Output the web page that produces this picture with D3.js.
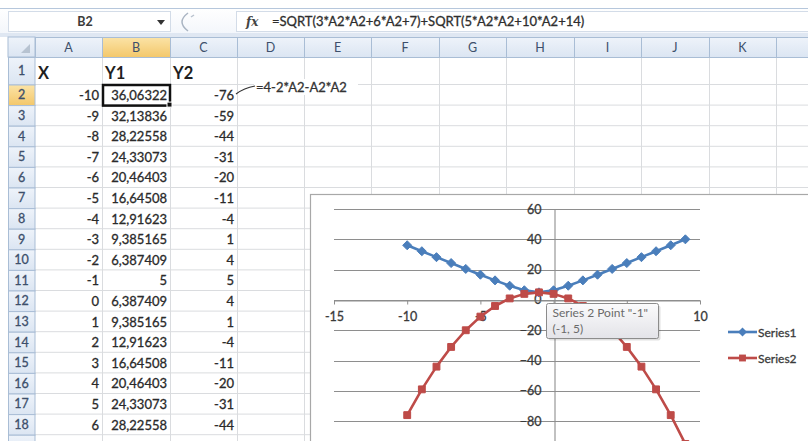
<!DOCTYPE html>
<html>
<head>
<meta charset="utf-8">
<script src="https://cdn.jsdelivr.net/npm/d3@7"></script>
<style>
  body { margin: 0; background: #fff; }
  svg { display: block; font-family: Lato, "Open Sans", sans-serif; }
</style>
</head>
<body>
<svg id="sheet" width="808" height="441"></svg>
<script>
// Worksheet data: X in column A, Y1 and Y2 computed by the cell formulas.
const X  = [-10, -9, -8, -7, -6, -5, -4, -3, -2, -1, 0, 1, 2, 3, 4, 5, 6, 7, 8, 9];
const Y1 = [36.06322, 32.13836, 28.22558, 24.33073, 20.46403, 16.64508, 12.91623, 9.385165, 6.387409, 5,
            6.387409, 9.385165, 12.91623, 16.64508, 20.46403, 24.33073, 28.22558, 32.13836, 36.06322, 39.99659];
const Y2 = [-76, -59, -44, -31, -20, -11, -4, 1, 4, 5, 4, 1, -4, -11, -20, -31, -44, -59, -76, -95];

const headers     = ["X", "Y1", "Y2"];
const colLetters  = ["A", "B", "C", "D", "E", "F", "G", "H", "I", "J", "K", "L"];
const seriesNames = ["Series1", "Series2"];
const xTicks = [-15, -10, -5, 0, 5, 10];
const yTicks = [-80, -60, -40, -20, 0, 20, 40, 60];
const nameBox = "B2";
const formulaY1 = "=SQRT(3*A2*A2+6*A2+7)+SQRT(5*A2*A2+10*A2+14)";
const formulaY2 = "=4-2*A2-A2*A2";

const W = 808, H = 441;
const svg = d3.select("#sheet");
const defs = svg.append("defs");

function vGrad(id, top, bottom) {
  const g = defs.append("linearGradient").attr("id", id).attr("x1", 0).attr("y1", 0).attr("x2", 0).attr("y2", 1);
  g.append("stop").attr("offset", "0%").attr("stop-color", top);
  g.append("stop").attr("offset", "100%").attr("stop-color", bottom);
}
vGrad("hdr", "#eef3fa", "#dbe5f2");
vGrad("hdrSel", "#fbe3a6", "#f3c76a");
vGrad("tip", "#fbfbfc", "#e3e3e8");
vGrad("bar", "#ffffff", "#f3f6fb");

// slightly heavier text, like the screen rendering of Calibri
const heavy = sel => sel.attr("stroke", sel.attr("fill")).attr("stroke-width", 0.3);

// ---------- grid geometry ----------
const colEdges = [8, 35, 102, 170, 237, 304, 371, 439, 506, 574, 641, 709, 776, 844];
const headTop = 37, headBot = 57, row1Bot = 84.5, rowH = 20.6;
const rowTop = k => (k === 1 ? headBot : row1Bot + (k - 2) * rowH);
const nRows = X.length + 1;

// ---------- formula bar ----------
const bar = svg.append("g");
bar.append("rect").attr("x", 0).attr("y", 8).attr("width", W).attr("height", 26).attr("fill", "url(#bar)");
bar.append("line").attr("x1", 0).attr("x2", W).attr("y1", 8.5).attr("y2", 8.5).attr("stroke", "#b6c7dc");
bar.append("rect").attr("x", 0).attr("y", 33).attr("width", W).attr("height", 4).attr("fill", "#dfe7f2");
bar.append("rect").attr("x", 8.5).attr("y", 11.5).attr("width", 162).attr("height", 20)
  .attr("fill", "#fff").attr("stroke", "#d3dce8");
bar.append("text").attr("x", 85).attr("y", 26).attr("text-anchor", "middle")
  .attr("font-size", 12.5).attr("font-weight", "bold").attr("fill", "#3b3b3b").text(nameBox);
bar.append("path").attr("d", "M157,20 L165,20 L161,25 Z").attr("fill", "#333");
bar.append("path").attr("d", "M188,13 Q176,22 188,31").attr("fill", "none").attr("stroke", "#a9b4c2").attr("stroke-width", 1.5);
bar.append("path").attr("d", "M191,17 l3,-2").attr("stroke", "#b9c2ce").attr("stroke-width", 1.5);
bar.append("rect").attr("x", 236.5).attr("y", 11.5).attr("width", 580).attr("height", 20)
  .attr("fill", "#fff").attr("stroke", "#d3dce8");
bar.append("text").attr("x", 246).attr("y", 26).attr("font-size", 12).attr("font-style", "italic")
  .attr("font-weight", "bold").attr("font-family", "DejaVu Serif, serif").attr("fill", "#444").text("fx");
bar.append("text").attr("x", 272).attr("y", 26).attr("font-size", 13).attr("fill", "#2e2e2e")
  .text(formulaY1).call(heavy);

// ---------- cells ----------
const cells = svg.append("g");
cells.append("rect").attr("x", 35).attr("y", headBot).attr("width", W).attr("height", H)
  .attr("fill", "#fff");
cells.selectAll("line.v").data(colEdges.slice(2)).join("line")
  .attr("x1", d => d + 0.5).attr("x2", d => d + 0.5).attr("y1", headBot).attr("y2", H)
  .attr("stroke", "#dadcdf");
cells.selectAll("line.h").data(d3.range(2, nRows + 2)).join("line")
  .attr("x1", 35).attr("x2", W).attr("y1", k => rowTop(k)).attr("y2", k => rowTop(k))
  .attr("stroke", "#dadcdf");

// column headers (a letter is only written when its header cell is in view)
const colHdr = svg.append("g");
colHdr.append("rect").attr("x", 8).attr("y", headTop).attr("width", 27).attr("height", headBot - headTop)
  .attr("fill", "url(#hdr)").attr("stroke", "#a9bdd5");
colHdr.append("path").attr("d", "M30,44 L30,53 L21,53 Z").attr("fill", "#b7c3d1");
colLetters.forEach((c, i) => {
  const x0 = colEdges[i + 1], x1 = colEdges[i + 2];
  colHdr.append("rect").attr("x", x0 + 0.5).attr("y", headTop + 0.5).attr("width", x1 - x0).attr("height", headBot - headTop)
    .attr("fill", c === "B" ? "url(#hdrSel)" : "url(#hdr)").attr("stroke", "#a9bdd5");
  if ((x0 + x1) / 2 < W - 8) {
    colHdr.append("text").attr("x", (x0 + x1) / 2).attr("y", 52).attr("text-anchor", "middle")
      .attr("font-size", 12.5).attr("fill", "#3d4f6b").text(c);
  }
});

// only rows whose text fits inside the window get a label
const rowFits = k => rowTop(k) + 16 < H;

// row headers
const rowHdr = svg.append("g");
d3.range(1, nRows + 1).forEach(k => {
  const t = rowTop(k), b = k === 1 ? row1Bot : t + rowH;
  rowHdr.append("rect").attr("x", 8.5).attr("y", t + 0.5).attr("width", 26.5).attr("height", b - t)
    .attr("fill", k === 2 ? "url(#hdrSel)" : "url(#hdr)").attr("stroke", "#a9bdd5");
  if (rowFits(k)) {
    rowHdr.append("text").attr("x", 21.5).attr("y", (t + b) / 2 + 4.5).attr("text-anchor", "middle")
      .attr("font-size", 12.5).attr("fill", "#3d4f6b").text(k).call(heavy);
  }
});

// header row
headers.forEach((h, i) => {
  cells.append("text").attr("x", colEdges[i + 1] + 3).attr("y", 79)
    .attr("font-size", 16.5).attr("font-weight", "bold").attr("fill", "#1f1f1f").text(h);
});

// values (comma as decimal separator)
const fmt = v => String(v).replace(".", ",");
X.forEach((xv, i) => {
  if (!rowFits(i + 2)) return;
  const base = rowTop(i + 2) + 15.5;
  [[xv, 2], [Y1[i], 3], [Y2[i], 4]].forEach(([v, e]) => {
    cells.append("text").attr("x", colEdges[e] - 3).attr("y", base).attr("text-anchor", "end")
      .attr("font-size", 13).attr("fill", "#2a2a2a").text(fmt(v)).call(heavy);
  });
});

// active cell B2
cells.append("rect").attr("x", colEdges[2] + 1).attr("y", rowTop(2) + 0.5)
  .attr("width", colEdges[3] - colEdges[2] - 1).attr("height", rowH)
  .attr("fill", "none").attr("stroke", "#111").attr("stroke-width", 2.5);
cells.append("rect").attr("x", colEdges[3] - 3).attr("y", rowTop(3) - 3).attr("width", 5).attr("height", 5)
  .attr("fill", "#111").attr("stroke", "#fff").attr("stroke-width", 1);

// formula note for column C
cells.append("rect").attr("x", 254).attr("y", 79).attr("width", 104).attr("height", 16).attr("fill", "#fff");
cells.append("path").attr("d", "M236,94 Q244,88 255,86").attr("fill", "none").attr("stroke", "#333").attr("stroke-width", 1.2);
cells.append("text").attr("x", 256).attr("y", 92).attr("font-size", 13).attr("fill", "#333").text(formulaY2).call(heavy);

// ---------- chart ----------
const chart = svg.append("g");
chart.append("rect").attr("x", 310.5).attr("y", 194.5).attr("width", 540).attr("height", 280)
  .attr("fill", "#fff").attr("stroke", "#a8a8a8").attr("stroke-width", 1.2);

const x = d3.scaleLinear().domain([-15, 10]).range([334, 700]);
const y = d3.scaleLinear().domain([-100, 60]).range([451.5, 209]);

// data tip box (drawn last, but its extent is needed for the axis labels)
const tipBox = { x: 546.5, y: 303.5, w: 112, h: 35 };
const underTip = v => x(v) > tipBox.x && x(v) < tipBox.x + tipBox.w;

// horizontal major gridlines
chart.selectAll("line.grid").data([-100, ...yTicks]).join("line")
  .attr("x1", x(-15)).attr("x2", x(10))
  .attr("y1", d => Math.round(y(d)) + 0.5).attr("y2", d => Math.round(y(d)) + 0.5)
  .attr("stroke", "#8e8e8e").attr("stroke-width", 1.1);

// y axis crossing at x = 0
const yAxis = chart.append("g").attr("transform", `translate(${Math.round(x(0)) + 0.5},0)`)
  .call(d3.axisLeft(y).tickValues(yTicks).tickSize(0).tickPadding(13));
yAxis.select(".domain").attr("stroke", "#8e8e8e").attr("stroke-width", 1.1);
yAxis.selectAll("text").attr("font-family", "Lato, sans-serif").attr("font-size", 12.5).attr("fill", "#3a3a3a")
  .attr("stroke", "#3a3a3a").attr("stroke-width", 0.3);

// x axis crossing at y = 0; labels hidden behind the data tip are not drawn
const xAxis = chart.append("g").attr("transform", `translate(0,${Math.round(y(0)) + 0.5})`)
  .call(d3.axisBottom(x).tickValues(xTicks).tickSize(4).tickPadding(8).tickSizeOuter(0)
    .tickFormat(v => (underTip(v) ? "" : v)));
xAxis.select(".domain").attr("stroke", "#8e8e8e").attr("stroke-width", 1.1);
xAxis.selectAll(".tick line").attr("stroke", "#8e8e8e");
xAxis.selectAll("text").attr("font-family", "Lato, sans-serif").attr("font-size", 12.5).attr("fill", "#3a3a3a")
  .attr("stroke", "#3a3a3a").attr("stroke-width", 0.3);

const blue = "#4a7ebb", red = "#be4b48";
const diamond = d3.symbol().type(d3.symbolDiamond2).size(52);
const square = d3.symbol().type(d3.symbolSquare2).size(60);
const line = d3.line().x(d => x(d[0])).y(d => y(d[1]));

function drawSeries(vals, color, sym) {
  const pts = X.map((xv, i) => [xv, vals[i]]);
  chart.append("path").attr("d", line(pts)).attr("fill", "none")
    .attr("stroke", color).attr("stroke-width", 2.6).attr("stroke-linejoin", "round");
  chart.selectAll(null).data(pts).join("path")
    .attr("transform", d => `translate(${x(d[0])},${y(d[1])})`)
    .attr("d", sym).attr("fill", color).attr("stroke", color).attr("stroke-width", 1);
}
drawSeries(Y1, blue, diamond);
drawSeries(Y2, red, square);

// legend
const legend = chart.append("g");
[[seriesNames[0], blue, diamond, 332], [seriesNames[1], red, square, 358]].forEach(([name, color, sym, ly]) => {
  legend.append("line").attr("x1", 728).attr("x2", 757).attr("y1", ly).attr("y2", ly)
    .attr("stroke", color).attr("stroke-width", 2.6);
  legend.append("path").attr("transform", `translate(742.5,${ly})`).attr("d", sym).attr("fill", color);
  legend.append("text").attr("x", 758).attr("y", ly + 4.5).attr("font-size", 12).attr("fill", "#3a3a3a")
    .text(name).call(heavy);
});

// data tip on the Series 2 point at x = -1
const tipIdx = X.indexOf(-1);
const tip = chart.append("g");
tip.append("rect").attr("x", tipBox.x + 2).attr("y", tipBox.y + 2).attr("width", tipBox.w).attr("height", tipBox.h)
  .attr("rx", 2).attr("fill", "#000").attr("opacity", 0.12);
tip.append("rect").attr("x", tipBox.x).attr("y", tipBox.y).attr("width", tipBox.w).attr("height", tipBox.h)
  .attr("rx", 2).attr("fill", "url(#tip)").attr("stroke", "#8c8c8c");
tip.append("text").attr("x", tipBox.x + 6).attr("y", tipBox.y + 13.5).attr("font-size", 12).attr("fill", "#6a6a6a")
  .text(`Series 2 Point "${X[tipIdx]}"`);
tip.append("text").attr("x", tipBox.x + 6).attr("y", tipBox.y + 29.5).attr("font-size", 12).attr("fill", "#6a6a6a")
  .text(`(${X[tipIdx]}, ${Y2[tipIdx]})`);
</script>
</body>
</html>
